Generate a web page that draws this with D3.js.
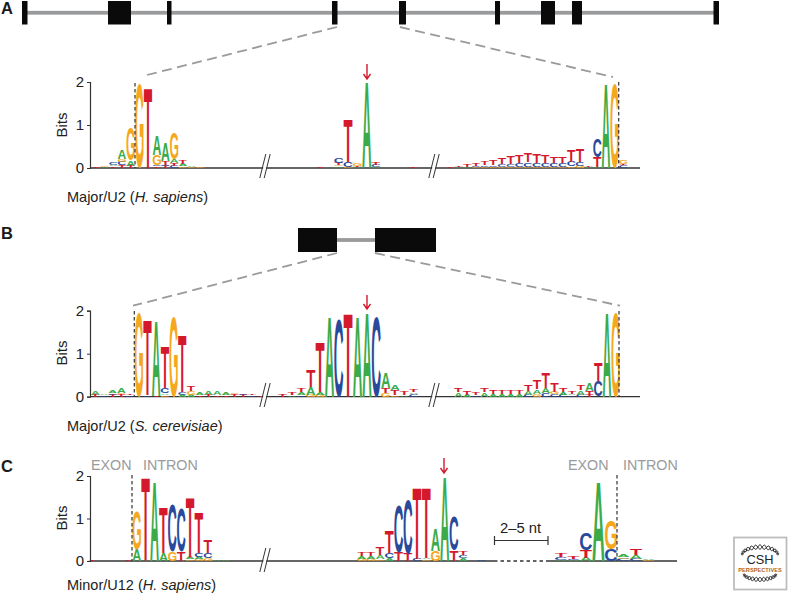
<!DOCTYPE html>
<html><head><meta charset="utf-8">
<script src="https://cdn.jsdelivr.net/npm/d3@7"></script>
<style>html,body{margin:0;padding:0;background:#fff}svg{display:block}
text{font-family:"Liberation Sans",Arial,sans-serif}</style></head>
<body><div id="chart"></div>
<script>
// ---- data: each column is a bottom-to-top stack of [letter, bits]
const sapiensDonor = [
 [["T",.02]],[["A",.02],["G",.03]],[["T",.04],["A",.04],["C",.07]],[["T",.06],["C",.08],["G",.06],["A",.22]],
 [["T",.05],["A",.12],["G",.75]],[["G",1.96]],[["T",1.88]],[["T",.04],["C",.03],["G",.23],["A",.46]],
 [["T",.05],["C",.03],["T",.08],["A",.42]],[["C",.05],["T",.07],["A",.09],["G",.6]],[["G",.04],["A",.06],["T",.08]],[["G",.03],["A",.04]],[["G",.02]]];
const sapiensBranch = [
 [["T",.03]],[],[["A",.04],["G",.03],["T",.05],["C",.13]],[["G",.03],["C",.12],["T",1.0]],[["A",.02],["T",.02],["G",.06]],
 [["A",2.0]],[["A",.03],["C",.05],["T",.05]],[],[],[],[["T",.03]]];
const sapiensAcceptor = [
 [["T",.03]],[["A",.03],["T",.04]],[["A",.03],["T",.05]],[["G",.02],["C",.03],["T",.06]],[["G",.02],["C",.04],["T",.08]],
 [["G",.03],["C",.04],["T",.12]],[["G",.03],["C",.06],["T",.14]],[["G",.03],["C",.07],["T",.17]],[["G",.03],["C",.09],["T",.19]],
 [["G",.03],["C",.1],["T",.22]],[["G",.03],["C",.09],["T",.21]],[["G",.03],["C",.08],["T",.17]],[["G",.03],["C",.08],["T",.15]],
 [["G",.03],["C",.08],["T",.15]],[["G",.04],["C",.11],["T",.26]],[["G",.05],["C",.1],["T",.3]],[["A",.02],["T",.02]],
 [["A",.02],["T",.23],["C",.43]],[["A",1.97]],[["G",1.97]],[["C",.06],["T",.03],["G",.1]]];
const cerevisiaeDonor = [
 [["T",.05],["A",.09]],[["C",.03],["A",.04]],[["T",.05],["C",.04],["A",.05]],[["T",.06],["G",.02],["A",.13]],[["C",.03],["T",.04]],
 [["G",1.96]],[["C",.03],["T",1.76]],[["T",.02],["A",1.74]],[["G",.04],["A",.04],["C",.12],["T",.97]],
 [["G",1.86]],[["A",.05],["C",.05],["T",1.34]],[["A",.05],["G",.08],["T",.12]],
 [["T",.04],["A",.06]],[["T",.05],["A",.1]],[["T",.04],["A",.1]],[["T",.04],["A",.06]],[["T",.06],["G",.03]],[["T",.05],["C",.02]],[["C",.03],["T",.03]],[["T",.03]]];
const cerevisiaeBranch = [
 [["T",.05]],[["A",.04],["T",.07]],[["C",.04],["A",.06],["T",.1]],[["G",.05],["A",.18],["T",.39]],[["G",.05],["A",.07],["T",1.14]],
 [["A",1.88]],[["C",1.82]],[["T",1.94]],[["A",1.88]],[["A",1.95]],[["C",1.86]],
 [["G",.08],["T",.12],["A",.37]],[["G",.03],["T",.12],["A",.13]],[["A",.04],["T",.08]],[["C",.06],["A",.04],["T",.06]]];
const cerevisiaeAcceptor = [
 [["A",.1],["T",.1]],[["A",.05],["T",.08]],[["C",.04],["T",.06]],[["A",.1],["T",.1]],[["A",.07],["T",.1]],[["A",.06],["T",.09]],[["A",.06],["T",.09]],[["A",.06],["T",.09]],
 [["C",.05],["A",.08],["T",.16]],[["G",.07],["A",.1],["T",.2]],[["C",.08],["A",.13],["T",.36]],[["C",.06],["G",.06],["T",.2]],[["C",.05],["A",.07],["T",.1]],[["C",.04],["A",.03],["T",.05]],
 [["C",.05],["A",.1],["T",.11]],[["T",.05],["T",.08],["A",.17]],[["C",.37],["T",.43]],[["A",1.96]],[["G",1.96]]];
const minorDonor = [
 [["T",.02]],[["A",.01]],[["T",.01]],[["C",.01]],[["T",.02]],
 [["A",.26],["G",.9]],[["T",1.94]],[["A",1.85]],[["A",.18],["T",1.08]],[["G",.22],["C",1.1]],[["T",.22],["C",1.02]],
 [["G",.04],["A",.06],["T",1.39]],[["G",.05],["A",.05],["C",.1],["T",.94]],[["G",.06],["C",.12],["T",.3]],[["A",.03]],[["A",.02]],[["T",.01]]];
const minorBranch = [
 [["G",.05],["A",.07],["T",.09]],[["G",.05],["A",.07],["T",.09]],[["G",.04],["A",.09],["T",.18]],
 [["A",.07],["C",.13],["T",.52]],[["T",.2],["C",1.12]],[["T",.18],["C",1.27]],[["C",.05],["T",1.67]],[["G",.04],["A",.03],["T",1.66]],
 [["G",.24],["A",.53]],[["A",1.98]],[["T",.24],["C",.81]],[["A",.07],["C",.06],["T",.09]],[],[["C",.04]]];
const minorAcceptor = [
 [["A",.02],["C",.07],["T",.08]],[["A",.02],["C",.03],["T",.05]],[["A",.08],["T",.18],["C",.4]],[["A",1.85]],
 [["C",.27],["G",.67]],[["C",.05],["G",.04],["A",.05]],[["C",.05],["A",.09],["T",.16]],[["G",.03],["A",.04]]];

const panelLetters = ["A","B","C"];
const yTicks = [0,1,2];
const captions = [["Major/U2 (","H. sapiens",")"],["Major/U2 (","S. cerevisiae",")"],["Minor/U12 (","H. sapiens",")"]];
const exonsA = [[22,27.5],[108,131],[167,171.5],[332,337.5],[399,406],[495,500],[541,555],[572,582],[713.5,719]];
const exonsB = [[298,337],[375,436]];

// ---- layout
const W=791,H=594;
const svg=d3.select("#chart").append("svg").attr("width",W).attr("height",H);
const colors={A:"#3bab4a",C:"#29499b",G:"#f5a81e",T:"#d5192c"};
const gray="#999a9c", ink="#333";
const ctx=document.createElement("canvas").getContext("2d");
ctx.font='bold 100px "Liberation Sans"';
const metric={};
"ACGT".split("").forEach(l=>{const m=ctx.measureText(l);metric[l]={l:m.actualBoundingBoxLeft,r:m.actualBoundingBoxRight,a:m.actualBoundingBoxAscent,d:m.actualBoundingBoxDescent};});

function logo(g,y,cols,first,last){
  const x=d3.scaleLinear().domain([0,cols.length-1]).range([first,last]);
  const step=(last-first)/(cols.length-1);
  cols.forEach((stack,i)=>{
    let acc=0;
    stack.forEach(([l,v])=>{
      const m=metric[l],x0=x(i)-step/2+.2,x1=x(i)+step/2-.2,y1=y(acc),y0=y(acc+v);
      const sx=(x1-x0)/(m.l+m.r),sy=(y1-y0)/(m.a+m.d);
      g.append("text").text(l).attr("font-size",100).attr("font-weight","bold").attr("fill",colors[l])
       .attr("transform",`translate(${x0+m.l*sx},${y1-m.d*sy}) scale(${sx},${sy})`);
      acc+=v;
    });
  });
}
function hline(g,x1,x2,y,dash){g.append("line").attr("x1",x1).attr("x2",x2).attr("y1",y).attr("y2",y).attr("stroke",ink).attr("stroke-width",1.3).attr("stroke-dasharray",dash||null);}
function brk(g,xc,y){
  g.append("path").attr("d",`M${xc-3.5},${y+11}L${xc+.5},${y-13}L${xc+3.5},${y-13}L${xc-.5},${y+11}Z`).attr("fill","#fff");
  [-2.2,2.2].forEach(d=>g.append("line").attr("x1",xc+d-3).attr("y1",y+11).attr("x2",xc+d+3).attr("y2",y-13).attr("stroke",ink).attr("stroke-width",1));
}
function arrow(g,x,y0,y1){
  g.append("path").attr("d",`M${x},${y0}V${y1}M${x-3.5},${y1-5}L${x},${y1}L${x+3.5},${y1-5}`).attr("fill","none").attr("stroke","#d5192c").attr("stroke-width",1.4);
}
function vdash(g,x,y0,y1){g.append("line").attr("x1",x).attr("x2",x).attr("y1",y0).attr("y2",y1).attr("stroke","#333").attr("stroke-width",1.2).attr("stroke-dasharray","3.5,2.5");}
function zoomLine(x1,y1,x2,y2){svg.append("line").attr("x1",x1).attr("y1",y1).attr("x2",x2).attr("y2",y2).attr("stroke",gray).attr("stroke-width",1.8).attr("stroke-dasharray","10,5.5");}
function gene(exons,y0,y1){
  const yc=(y0+y1)/2;
  svg.append("rect").attr("x",exons[0][0]).attr("width",exons[exons.length-1][1]-exons[0][0]).attr("y",yc-1.9).attr("height",3.8).attr("fill",gray);
  svg.selectAll(null).data(exons).enter().append("rect").attr("x",d=>d[0]).attr("width",d=>d[1]-d[0]).attr("y",y0).attr("height",y1-y0).attr("fill","#0a0a0a");
}
function yAxis(g,y,caption,capY,labelY){
  const ax=d3.axisLeft(y).tickValues(yTicks).tickFormat(d3.format("d")).tickSize(3);
  const a=g.append("g").attr("transform","translate(90,0)").call(ax);
  a.select(".domain").attr("stroke",ink).attr("stroke-width",1.2);
  a.selectAll(".tick line").attr("stroke",ink);
  a.selectAll("text").attr("font-size",15).attr("fill","#222").attr("x",-6);
  g.append("text").attr("transform",`translate(66.5,${labelY}) rotate(-90)`).attr("text-anchor","middle").attr("font-size",15).attr("fill","#222").text("Bits");
  const t=g.append("text").attr("x",67).attr("y",capY).attr("font-size",14.5).attr("fill","#222");
  t.append("tspan").text(caption[0]);t.append("tspan").attr("font-style","italic").text(caption[1]);t.append("tspan").text(caption[2]);
}
function panelLabel(txt,y){svg.append("text").attr("x",1).attr("y",y).attr("font-size",16.5).attr("font-weight","bold").attr("fill","#1a1a1a").text(txt);}

// Panel A
panelLabel(panelLetters[0],14);
gene(exonsA,1,24.5);
zoomLine(337,27,143,76); zoomLine(400,27,613,77);
{const g=svg.append("g"),y=d3.scaleLinear().domain([0,2]).range([168,82]);
 hline(g,90,640,168);
 logo(g,y,sapiensDonor,95.9,200.3);
 logo(g,y,sapiensBranch,320,413.3);
 logo(g,y,sapiensAcceptor,450,623.3);
 brk(g,265,167);brk(g,434,167);
 vdash(g,135,83,168);vdash(g,618.7,82,168);
 arrow(g,367,64,79);
 yAxis(g,y,captions[0],202,125);
}
// Panel B
panelLabel(panelLetters[1],239);
gene(exonsB,228,252);
zoomLine(337,253,133,305.7); zoomLine(375,253,620,305.7);
{const g=svg.append("g"),y=d3.scaleLinear().domain([0,2]).range([396.7,310.7]);
 hline(g,90,640,396.7);
 logo(g,y,cerevisiaeDonor,95.3,260.7);
 logo(g,y,cerevisiaeBranch,282.7,413.7);
 logo(g,y,cerevisiaeAcceptor,458.3,615.7);
 brk(g,265,396);brk(g,434,396);
 vdash(g,134.3,311,397);vdash(g,619,311,397);
 arrow(g,367,295,309);
 yAxis(g,y,captions[1],431,353);
}
// Panel C
panelLabel(panelLetters[2],472);
{const g=svg.append("g"),y=d3.scaleLinear().domain([0,2]).range([561,476]);
 hline(g,90,494,561);hline(g,494,548,561,"3.5,3");hline(g,548,677,561);
 logo(g,y,minorDonor,92.2,234.6);
 logo(g,y,minorBranch,361.7,481.7);
 logo(g,y,minorAcceptor,561,648.5);
 brk(g,265,561);
 vdash(g,132,475,561);vdash(g,617,475,561);
 arrow(g,444,458,473);
 yAxis(g,y,captions[2],590,518);
 const lab=(t,x)=>g.append("text").attr("x",x).attr("y",470).attr("font-size",14.3).attr("fill",gray).text(t);
 lab("EXON",91);lab("INTRON",143);lab("EXON",568);lab("INTRON",623);
 g.append("text").attr("x",500).attr("y",533).attr("font-size",14.8).attr("fill","#222").text("2–5 nt");
 g.append("path").attr("d","M494.5,536V545M494.5,540.5H548M548,536V545").attr("fill","none").attr("stroke",ink).attr("stroke-width",1.2);
}
// Publisher badge
{const g=svg.append("g");
 g.append("rect").attr("x",734).attr("y",537.5).attr("width",52.5).attr("height",52).attr("fill","#fff").attr("stroke","#bdbdbd").attr("stroke-width",1.8);
 g.append("text").attr("x",760).attr("y",564).attr("text-anchor","middle").attr("font-size",12.8).attr("fill","#222").text("CSH");
 g.append("text").attr("x",760).attr("y",571.5).attr("text-anchor","middle").attr("font-size",5.7).attr("font-weight","bold").attr("fill","#b0642a").text("PERSPECTIVES");
 const helix=(sign,base,h,r,ph)=>d3.line().curve(d3.curveBasis)(d3.range(0,49).map(i=>{
   const a=Math.PI*(i/48), w=2.4*Math.sin(i*0.85+ph);
   return [760+(r+w*.5)*Math.cos(a), base+sign*(h+w)*Math.sin(a)];
 }));
 [[-1,555,8,18,0],[-1,555,8,18,Math.PI],[1,574,5.5,16,0],[1,574,5.5,16,Math.PI]].forEach(([s,b,h,r,p])=>g.append("path").attr("d",helix(s,b,h,r,p)).attr("fill","none").attr("stroke","#222").attr("stroke-width",1));
}
</script></body></html>
